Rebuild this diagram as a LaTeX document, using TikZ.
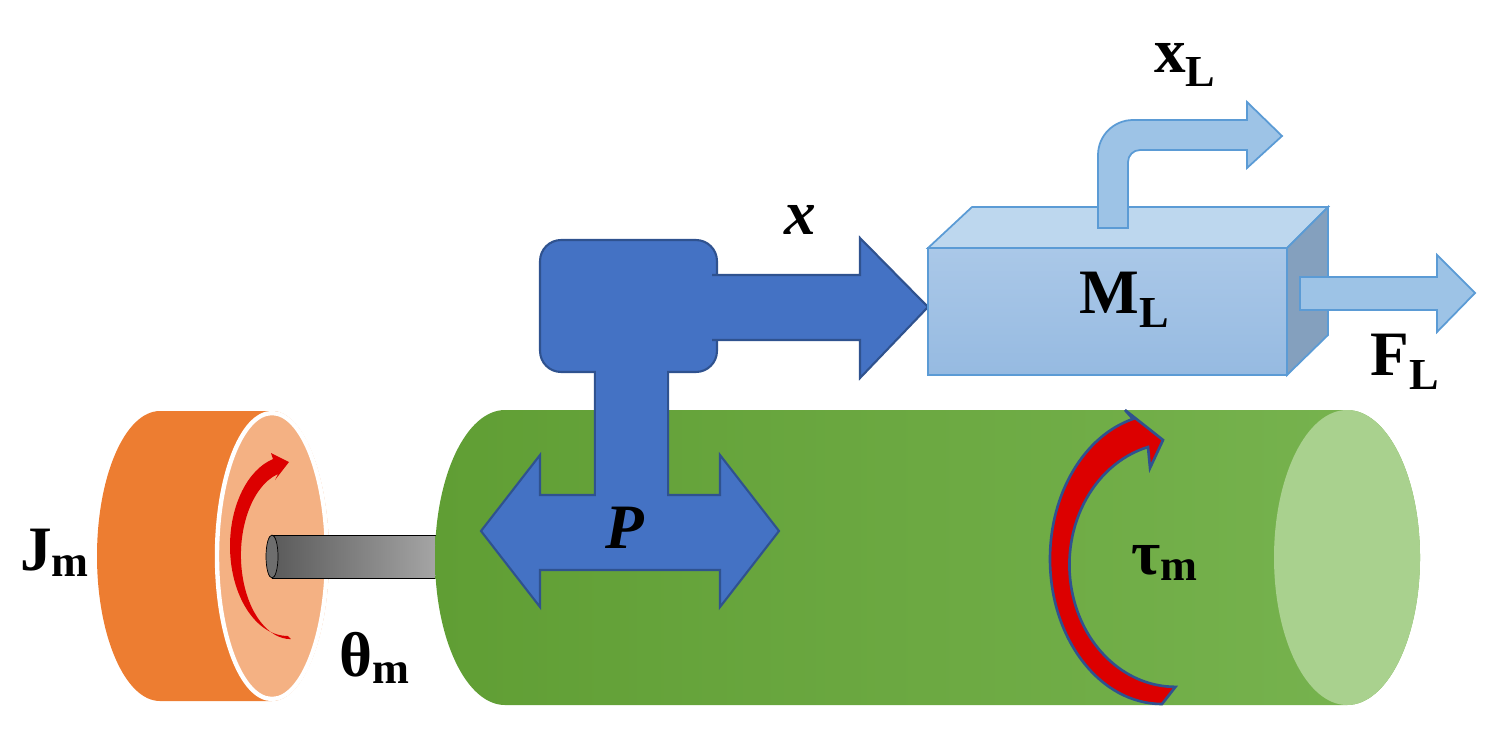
\documentclass[tikz,border=0pt]{standalone}
\usepackage{fontspec}
\setmainfont{Liberation Serif}
\definecolor{orng}{RGB}{237,125,49}
\definecolor{lorng}{RGB}{244,177,131}
\definecolor{dgray}{RGB}{90,90,90}
\definecolor{lgray}{RGB}{165,165,165}
\definecolor{mgray}{RGB}{110,110,110}
\definecolor{gl}{RGB}{96,158,52}
\definecolor{gr}{RGB}{120,180,80}
\definecolor{gface}{RGB}{169,209,142}
\definecolor{bfill}{RGB}{68,114,196}
\definecolor{bdraw}{RGB}{47,82,143}
\definecolor{lbfill}{RGB}{157,195,230}
\definecolor{lbdraw}{RGB}{91,155,213}
\definecolor{btop}{RGB}{189,215,238}
\definecolor{bside}{RGB}{132,160,190}
\definecolor{bft}{RGB}{170,200,232}
\definecolor{bfb}{RGB}{150,186,225}
\definecolor{rred}{RGB}{220,0,0}
\begin{document}
\begin{tikzpicture}[x=0.02cm,y=-0.02cm,
  lbl/.style={font=\fontsize{36}{40}\selectfont\bfseries,inner sep=0},
  blu/.style={fill=bfill,draw=bdraw,line width=1.2pt},
  lblu/.style={fill=lbfill,draw=lbdraw,line width=1pt},
  redarr/.style={fill=rred,draw=bdraw,line width=1.5pt}]
\useasboundingbox (0,0) rectangle (1503,741);
% orange disk
\fill[orng] (160,411) -- (272,411) arc[start angle=270,end angle=450,x radius=57,y radius=145] -- (160,701) arc[start angle=90,end angle=270,x radius=63,y radius=145] -- cycle;
\draw[white,line width=2.5pt,fill=lorng] (272,556) ellipse[x radius=55,y radius=143];
% shaft
\shade[left color=dgray,right color=lgray,draw=black] (272,535) rectangle (436,578);
\draw[fill=mgray] (272,556.5) ellipse[x radius=6,y radius=21.5];
% red arrow on disk
\fill[rred] (288,636) arc[start angle=90,end angle=255,x radius=58,y radius=90] -- (271,453) -- (289,462) -- (275,480) -- (278,474) arc[start angle=255,end angle=90,x radius=50,y radius=84] -- cycle;
% green cylinder
\shade[left color=gl,right color=gr] (505,410) -- (1347,410) arc[start angle=270,end angle=450,x radius=73,y radius=147.5] -- (505,705) arc[start angle=90,end angle=270,x radius=70,y radius=147.5] -- cycle;
\fill[gface] (1347,557.5) ellipse[x radius=73,y radius=147.5];
% blue T
\node[blu,rounded corners=12pt,minimum width=3.54cm,minimum height=2.64cm,inner sep=0] (blk) at (628.5,306) {};
\draw[blu] (595,372) -- (595,495) -- (540,495) -- (540,455) -- (481,531) -- (540,607) -- (540,570) -- (720,570) -- (720,607) -- (779,531) -- (720,455) -- (720,495) -- (668,495) -- (668,372);
\fill[bfill] (596,365) rectangle (667,500);
\draw[blu] (712,275) -- (860,275) -- (860,238) -- (928,307) -- (860,378) -- (860,340) -- (712,340);
\fill[bfill] (705,277) rectangle (715,338);
\node[lbl,font=\fontsize{36}{40}\selectfont\bfseries\itshape] (P) at (625,528) {P};
\node[lbl,font=\fontsize{36}{40}\selectfont\bfseries\itshape] (x) at (800,220) {x};
% box
\draw[lblu,fill=btop] (928,248) -- (972,207) -- (1328,207) -- (1287,248) -- cycle;
\draw[lblu,fill=bside] (1287,248) -- (1328,207) -- (1328,335) -- (1287,375) -- cycle;
\shade[top color=bft,bottom color=bfb,draw=lbdraw,line width=1pt] (928,248) rectangle (1287,375);
\node[lbl] (ML) at (1125,300) {M\textsubscript{L}};
% F_L arrow
\draw[lblu] (1300,277) -- (1437,277) -- (1437,255) -- (1475,293) -- (1437,332) -- (1437,310) -- (1300,310) -- cycle;
\node[lbl] (FL) at (1405,362) {F\textsubscript{L}};
% x_L bent arrow
\draw[lblu] (1098,228) -- (1098,155) arc[start angle=180,end angle=270,radius=35] -- (1247,120) -- (1247,102) -- (1282,136) -- (1247,168) -- (1247,150) -- (1140,150) arc[start angle=270,end angle=180,radius=12] -- (1128,228) -- cycle;
\node[lbl] (xL) at (1185,65) {x\textsubscript{L}};
% tau arrow
\draw[redarr] (1162,704) arc[start angle=90,end angle=255,x radius=112,y radius=145] -- (1125,410) -- (1163,440) -- (1150,468) -- (1148,447) arc[start angle=255,end angle=90,x radius=106,y radius=122] -- cycle;
\node[lbl] (tau) at (1165,563) {τ\textsubscript{m}};
\node[lbl] (J) at (55,553) {J\textsubscript{m}};
\node[lbl] (th) at (375,658) {θ\textsubscript{m}};
\end{tikzpicture}
\end{document}
